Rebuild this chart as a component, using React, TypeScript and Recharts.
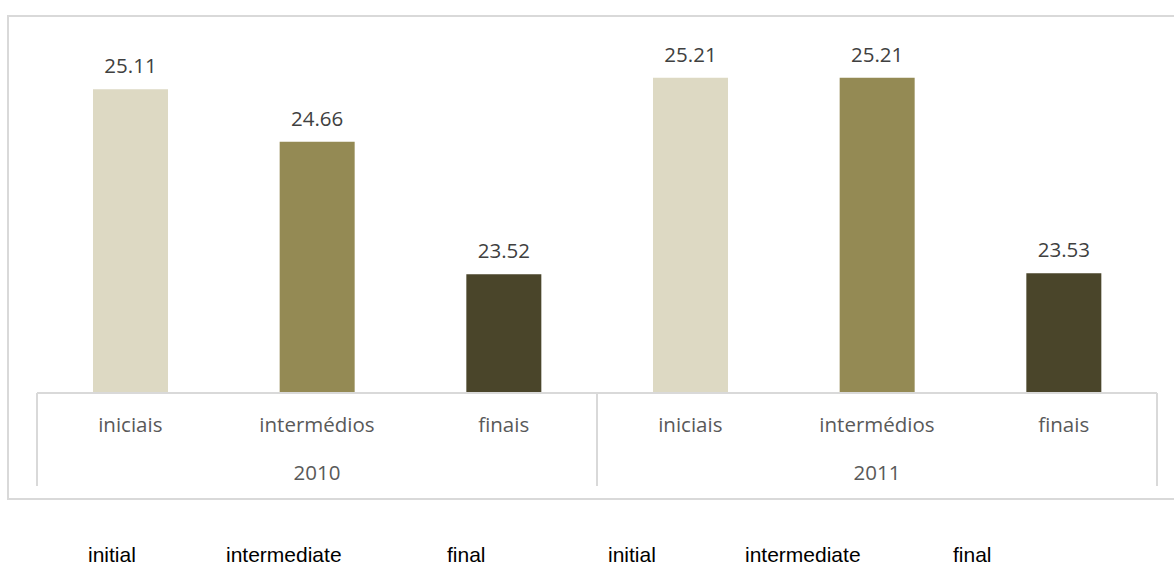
import { Bar, BarChart, Cell, LabelList, XAxis, YAxis } from "recharts";

// Average age by cycle stage, two school years
const stages = ["iniciais", "intermédios", "finais", "iniciais", "intermédios", "finais"];
const years = ["2010", "2011"];
const values = [25.11, 24.66, 23.52, 25.21, 25.21, 23.53];
const englishLabels = ["initial", "intermediate", "final", "initial", "intermediate", "final"];

const stageColors = ["#DDD9C3", "#948A54", "#4A452A"];

const data = stages.map((stage, i) => ({
  stage,
  year: years[Math.floor(i / 3)],
  value: values[i],
}));

const W = 1174;
const H = 565;
const PLOT_LEFT = 37;
const PLOT_RIGHT = 1157;
const PLOT_TOP = 44;
const PLOT_BOTTOM = 393;
const GRID = "#d9d9d9";
const CALIBRI = "'Open Sans', 'Noto Sans', sans-serif";

const englishX = [88, 226, 447, 608, 745, 953];

// group separators hanging below the category axis
const groupSize = stages.length / years.length;
const bandWidth = (PLOT_RIGHT - PLOT_LEFT) / stages.length;
const separatorX = Array.from({ length: years.length + 1 }, (_, k) => PLOT_LEFT + k * groupSize * bandWidth);

function StageTick(props: any) {
  const { x, payload } = props;
  const index: number = payload.index;
  return (
    <g>
      <text
        x={x}
        y={PLOT_BOTTOM + 39}
        textAnchor="middle"
        fill="#595959"
        fontSize={20.5}
        fontFamily={CALIBRI}
      >
        {payload.value}
      </text>
      {index % groupSize === 1 && (
        <text
          x={x}
          y={PLOT_BOTTOM + 87}
          textAnchor="middle"
          fill="#595959"
          fontSize={20.5}
          fontFamily={CALIBRI}
        >
          {data[index].year}
        </text>
      )}
    </g>
  );
}

export default function App() {
  return (
    <div
      style={{
        position: "absolute",
        left: 0,
        top: 0,
        width: W,
        height: H,
        overflow: "hidden",
        background: "#fff",
      }}
    >
      <div
        style={{
          position: "absolute",
          left: 7,
          top: 15,
          width: W,
          height: 481,
          border: `2px solid ${GRID}`,
        }}
      />
      <div style={{ position: "absolute", left: 0, top: 0 }}>
        <BarChart
          width={W}
          height={H}
          data={data}
          margin={{ top: PLOT_TOP, right: W - PLOT_RIGHT, left: PLOT_LEFT, bottom: 72 }}
        >
          <XAxis
            dataKey="stage"
            height={100}
            axisLine={{ stroke: GRID, strokeWidth: 2 }}
            tickLine={false}
            interval={0}
            tick={<StageTick />}
          />
          <YAxis hide domain={[22.5, 25.5]} allowDataOverflow />
          <Bar dataKey="value" barSize={75} isAnimationActive={false}>
            {data.map((d, i) => (
              <Cell key={`${d.year}-${d.stage}`} fill={stageColors[i % groupSize]} />
            ))}
            <LabelList
              dataKey="value"
              position="top"
              offset={16}
              fill="#404040"
              fontSize={20.5}
              fontFamily={CALIBRI}
            />
          </Bar>
        </BarChart>
      </div>
      <svg
        width={W}
        height={H}
        style={{ position: "absolute", left: 0, top: 0, pointerEvents: "none" }}
      >
        {separatorX.map((sx) => (
          <line
            key={sx}
            x1={sx}
            x2={sx}
            y1={PLOT_BOTTOM}
            y2={PLOT_BOTTOM + 93}
            stroke={GRID}
            strokeWidth={2}
          />
        ))}
        {englishLabels.map((label, i) => (
          <text
            key={i}
            x={englishX[i]}
            y={562}
            fill="#000"
            fontSize={21}
            fontFamily="'Liberation Sans', Arial, sans-serif"
          >
            {label}
          </text>
        ))}
      </svg>
    </div>
  );
}
